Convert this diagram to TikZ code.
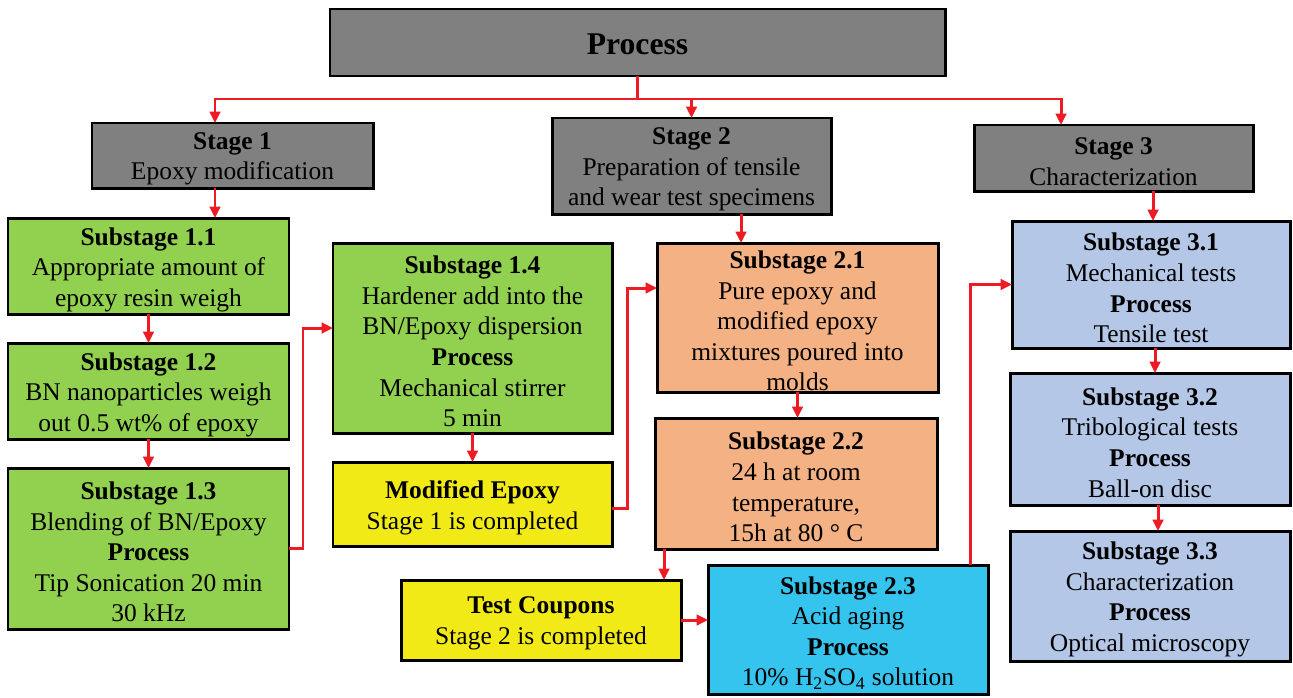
\documentclass[tikz,border=0pt]{standalone}
\usepackage{fontspec}
\setmainfont{Liberation Serif}
\usetikzlibrary{arrows.meta,fit,calc}
\definecolor{graybox}{RGB}{128,128,128}
\definecolor{greenbox}{RGB}{146,208,80}
\definecolor{yellowbox}{RGB}{242,234,22}
\definecolor{peachbox}{RGB}{244,177,131}
\definecolor{cyanbox}{RGB}{53,196,237}
\definecolor{bluebox}{RGB}{180,199,231}
\definecolor{redc}{RGB}{237,28,36}
\tikzset{
  box/.style={draw=black, line width=1.7pt, inner sep=0pt, outer sep=0pt},
  txt/.style={align=center, font=\fontsize{14.5}{17.4}\selectfont, inner sep=0pt, text=black, yshift=-0.07cm},
  conn/.style={draw=redc, line width=1.7pt},
  arr/.style={conn, -{Triangle[length=6.5pt,width=6pt]}},
}
\begin{document}
\begin{tikzpicture}[x=0.02cm,y=-0.02cm]
\useasboundingbox (0,0) rectangle (1293,697);
% boxes
\node[box, fill=graybox, fit={(330,9) (945,76)}] (proc) {};
\node[box, fill=graybox, fit={(92,123) (373,188)}] (s1) {};
\node[box, fill=graybox, fit={(552,118) (831,214)}] (s2) {};
\node[box, fill=graybox, fit={(974,125) (1253,191)}] (s3) {};
\node[box, fill=greenbox, fit={(8,218) (289,314)}] (s11) {};
\node[box, fill=greenbox, fit={(8,343) (289,439)}] (s12) {};
\node[box, fill=greenbox, fit={(8,468) (289,629)}] (s13) {};
\node[box, fill=greenbox, fit={(333,243) (612,433)}] (s14) {};
\node[box, fill=yellowbox, fit={(333,462) (612,546)}] (me) {};
\node[box, fill=peachbox, fit={(657,243) (938,392)}] (s21) {};
\node[box, fill=peachbox, fit={(655,418) (937,549)}] (s22) {};
\node[box, fill=yellowbox, fit={(401,580) (681,660)}] (tc) {};
\node[box, fill=cyanbox, fit={(708,565) (988,694)}] (s23) {};
\node[box, fill=bluebox, fit={(1012,221) (1290,348)}] (s31) {};
\node[box, fill=bluebox, fit={(1010,373) (1290,505)}] (s32) {};
\node[box, fill=bluebox, fit={(1010,531) (1290,661)}] (s33) {};
% texts
\node[txt, font=\fontsize{18}{22}\selectfont\bfseries, yshift=0.03cm] (tproc) at (proc.center) {Process};
\node[txt] (ts1) at (s1.center) {\textbf{Stage 1}\\Epoxy modification};
\node[txt] (ts2) at (s2.center) {\textbf{Stage 2}\\Preparation of tensile\\and wear test specimens};
\node[txt] (ts3) at (s3.center) {\textbf{Stage 3}\\Characterization};
\node[txt] (ts11) at (s11.center) {\textbf{Substage 1.1}\\Appropriate amount of\\epoxy resin weigh};
\node[txt] (ts12) at (s12.center) {\textbf{Substage 1.2}\\BN nanoparticles weigh\\out 0.5 wt\% of epoxy};
\node[txt] (ts13) at (s13.center) {\textbf{Substage 1.3}\\Blending of BN/Epoxy\\\textbf{Process}\\Tip Sonication 20 min\\30 kHz};
\node[txt] (ts14) at (s14.center) {\textbf{Substage 1.4}\\Hardener add into the\\BN/Epoxy dispersion\\\textbf{Process}\\Mechanical stirrer\\5 min};
\node[txt] (tme) at (me.center) {\textbf{Modified Epoxy}\\Stage 1 is completed};
\node[txt] (ts21) at (s21.center) {\textbf{Substage 2.1}\\Pure epoxy and\\modified epoxy\\mixtures poured into\\molds};
\node[txt] (ts22) at (s22.center) {\textbf{Substage 2.2}\\24 h at room\\temperature,\\15h at 80 ° C};
\node[txt] (ttc) at (tc.center) {\textbf{Test Coupons}\\Stage 2 is completed};
\node[txt] (ts23) at (s23.center) {\textbf{Substage 2.3}\\Acid aging\\\textbf{Process}\\10\% H\textsubscript{2}SO\textsubscript{4} solution};
\node[txt] (ts31) at (s31.center) {\textbf{Substage 3.1}\\Mechanical tests\\\textbf{Process}\\Tensile test};
\node[txt] (ts32) at (s32.center) {\textbf{Substage 3.2}\\Tribological tests\\\textbf{Process}\\Ball-on disc};
\node[txt] (ts33) at (s33.center) {\textbf{Substage 3.3}\\Characterization\\\textbf{Process}\\Optical microscopy};
% helper coordinates
\coordinate (hb) at (0,99);
\coordinate (k1) at (215,0);
\coordinate (k3) at (1061,0);
\coordinate (k4) at (303,0);
\coordinate (k5) at (0,328);
\coordinate (k6) at (0,508);
\coordinate (k7) at (627,0);
\coordinate (k8) at (0,288);
\coordinate (k9) at (741,0);
\coordinate (k10) at (664,0);
\coordinate (k12) at (970,0);
\coordinate (k14) at (1153,0);
\coordinate (k15) at (1155,0);
\coordinate (k16) at (1158,0);
% connectors
\draw[conn] (proc.south) -- (proc.south |- hb);
\draw[arr] (proc.south |- hb) -| (k1 |- s1.north);
\draw[arr] (proc.south |- hb) -| (s2.north);
\draw[arr] (proc.south |- hb) -| (k3 |- s3.north);
\draw[arr] (k1 |- s1.south) -- (k1 |- s11.north);
\draw[arr] (s11.south) -- (s12.north);
\draw[arr] (s12.south) -- (s13.north);
\draw[arr] (s13.east) -| (k4 |- k5) -- (s14.west |- k5);
\draw[arr] (s14.south) -- (me.north);
\draw[arr] (me.east |- k6) -| (k7 |- k8) -- (s21.west |- k8);
\draw[arr] (k9 |- s2.south) -- (k9 |- s21.north);
\draw[arr] (s21.south) -- (s21.south |- s22.north);
\draw[arr] (k10 |- s22.south) -- (k10 |- tc.north);
\draw[arr] (tc.east) -- (s23.west |- tc.east);
\draw[arr] (k12 |- s23.north) |- (s31.west);
\draw[arr] (k14 |- s3.south) -- (k14 |- s31.north);
\draw[arr] (k15 |- s31.south) -- (k15 |- s32.north);
\draw[arr] (k16 |- s32.south) -- (k16 |- s33.north);
\end{tikzpicture}
\end{document}
